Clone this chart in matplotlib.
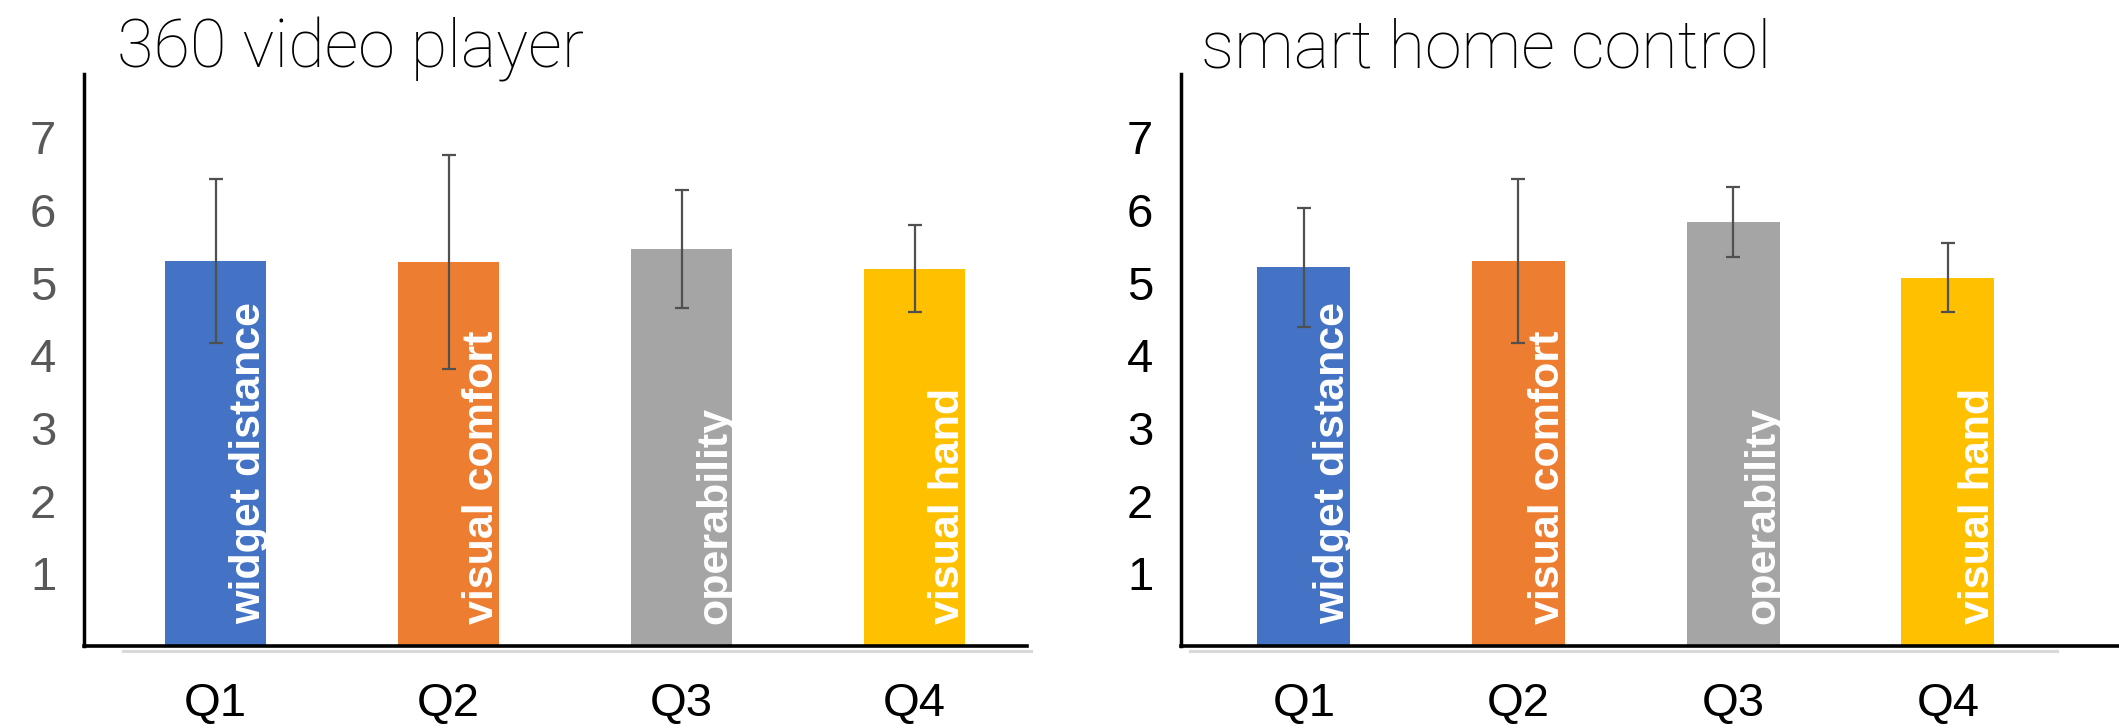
import matplotlib
matplotlib.use("Agg")

import matplotlib.pyplot as plt
import numpy as np

# values (7-point Likert means with SD)
questions = ["Q1", "Q2", "Q3", "Q4"]
bar_labels = ["widget distance", "visual comfort", "operability", "visual hand"]
colors = ["#4472C4", "#ED7D31", "#A5A5A5", "#FFC000"]

video_means = [5.30, 5.28, 5.46, 5.19]
video_sd = [1.13, 1.47, 0.81, 0.60]

home_means = [5.21, 5.30, 5.83, 5.07]
home_sd = [0.82, 1.13, 0.48, 0.47]

titles = ["360 video player", "smart home control"]
yticks = [1, 2, 3, 4, 5, 6, 7]

plt.rcParams["font.family"] = ["Liberation Sans", "DejaVu Sans"]

W, H = 2119, 728
fig = plt.figure(figsize=(W / 100, H / 100), dpi=100)

# axes boxes in pixels: (left, right), bottom at y=646, top at y=74
panels = [
    dict(x0=84, x1=1027, xlim=(-0.565, 3.482), tick_color="#595959",
         means=video_means, sd=video_sd, title=titles[0], title_x=117,
         gray=(-0.398, 3.50)),
    dict(x0=1181, x1=2119, xlim=(-0.572, 3.797), tick_color="black",
         means=home_means, sd=home_sd, title=titles[1], title_x=1201,
         gray=(-0.53, 3.51)),
]

y_bottom, y_top = 646, 74
for p in panels:
    ax = fig.add_axes([p["x0"] / W, (H - y_bottom) / H,
                       (p["x1"] - p["x0"]) / W, (y_bottom - y_top) / H])
    x = np.arange(len(questions))
    ax.bar(x, p["means"], width=0.433, color=colors, zorder=2)
    ax.errorbar(x, p["means"], yerr=p["sd"], fmt="none", ecolor="#505050",
                elinewidth=1.6, capsize=5, capthick=1.6, zorder=3)

    # light grey Excel axis line just under the black one
    ax.plot(p["gray"], [-0.07, -0.07], color="#d9d9d9", lw=2.2,
            clip_on=False, zorder=1)

    for xi, lab in zip(x, bar_labels):
        ax.text(xi + 0.19, 0.30, lab, rotation=90, rotation_mode="anchor",
                ha="left", va="baseline", color="white", fontsize=31,
                fontweight="bold", zorder=4)

    ax.set_xlim(*p["xlim"])
    ax.set_ylim(0, 7.87)
    ax.set_yticks(yticks)
    ax.set_xticks(x)
    ax.set_xticklabels(questions)
    ax.tick_params(axis="y", length=0, pad=20, labelsize=34,
                   labelcolor=p["tick_color"])
    ax.tick_params(axis="x", length=0, pad=26, labelsize=34,
                   labelcolor="black")

    for side in ["top", "right"]:
        ax.spines[side].set_visible(False)
    ax.spines["left"].set_linewidth(2.5)
    ax.spines["bottom"].set_linewidth(2.6)

    fig.text(p["title_x"] / W, (H - 68) / H, p["title"], fontsize=48,
             family=["Roboto", "DejaVu Sans"], fontweight="light",
             ha="left", va="baseline", color="black")

plt.savefig("out.png", dpi=100)
plt.close()
